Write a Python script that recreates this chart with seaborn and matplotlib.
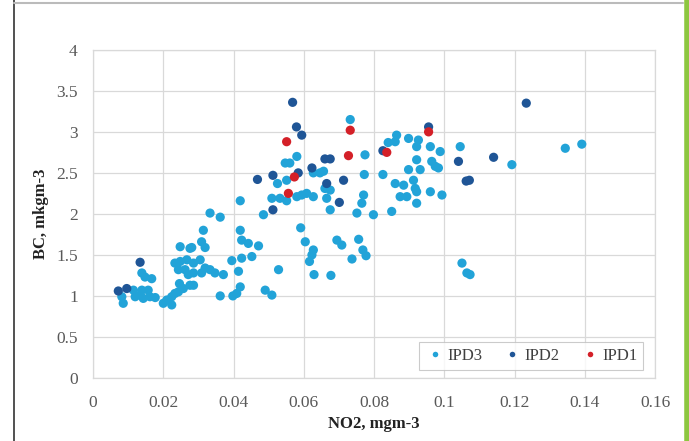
import matplotlib
matplotlib.use("Agg")
import matplotlib.pyplot as plt
from matplotlib.lines import Line2D
import seaborn as sns
import pandas as pd

# ---- data ----
ipd3_no2 = [0.0139, 0.0148, 0.0167, 0.0082, 0.0086, 0.0115, 0.0134, 0.0143, 0.0120, 0.0139,
            0.0157, 0.0162, 0.0177, 0.0210, 0.0224, 0.0200, 0.0224, 0.0246, 0.0243, 0.0257,
            0.0233, 0.0276, 0.0248, 0.0276, 0.0233, 0.0248, 0.0267, 0.0286, 0.0243, 0.0262,
            0.0271, 0.0286,
            0.0419, 0.0509, 0.0532, 0.0551, 0.0485, 0.0333, 0.0362, 0.0314, 0.0309, 0.0319,
            0.0281, 0.0419, 0.0423, 0.0442, 0.0471, 0.0452, 0.0423, 0.0395, 0.0305, 0.0319,
            0.0333, 0.0309, 0.0347, 0.0371, 0.0414, 0.0528, 0.0286, 0.0419, 0.0362, 0.0398,
            0.0409, 0.0490, 0.0509,
            0.0547, 0.0560, 0.0580, 0.0525, 0.0551, 0.0732, 0.0774, 0.0840, 0.0627, 0.0656,
            0.0772, 0.0825, 0.0660, 0.0675, 0.0608, 0.0627, 0.0580, 0.0594, 0.0665, 0.0770,
            0.0765, 0.0675, 0.0751, 0.0798, 0.0591, 0.0604, 0.0627, 0.0623, 0.0616, 0.0694,
            0.0708, 0.0756, 0.0768, 0.0777, 0.0737, 0.0629, 0.0677, 0.0646,
            0.0864, 0.0860, 0.0898, 0.0926, 0.0921, 0.0960, 0.0988, 0.1045, 0.0921, 0.0931,
            0.0898, 0.0964, 0.0974, 0.0983, 0.0860, 0.0884, 0.0912, 0.0917, 0.0921, 0.0960,
            0.0993, 0.0874, 0.0893, 0.0921, 0.0850, 0.1050, 0.1064, 0.1073,
            0.1192, 0.1344, 0.1391]
ipd3_bc = [1.28, 1.23, 1.21, 0.99, 0.91, 1.07, 1.01, 0.97, 0.99, 1.07,
           1.07, 0.99, 0.98, 0.95, 0.99, 0.91, 0.89, 1.15, 1.05, 1.09,
           1.03, 1.13, 1.60, 1.58, 1.40, 1.42, 1.44, 1.40, 1.32, 1.32,
           1.26, 1.28,
           2.16, 2.19, 2.19, 2.16, 1.99, 2.01, 1.96, 1.80, 1.66, 1.59,
           1.59, 1.80, 1.68, 1.64, 1.61, 1.48, 1.46, 1.43, 1.44, 1.34,
           1.32, 1.28, 1.28, 1.26, 1.30, 1.32, 1.13, 1.11, 1.00, 1.00,
           1.03, 1.07, 1.01,
           2.62, 2.62, 2.70, 2.37, 2.41, 3.15, 2.72, 2.87, 2.50, 2.52,
           2.48, 2.48, 2.31, 2.29, 2.25, 2.21, 2.21, 2.23, 2.19, 2.23,
           2.13, 2.05, 2.01, 1.99, 1.83, 1.66, 1.56, 1.50, 1.42, 1.68,
           1.62, 1.69, 1.56, 1.49, 1.45, 1.26, 1.25, 2.50,
           2.96, 2.88, 2.92, 2.90, 2.82, 2.82, 2.76, 2.82, 2.66, 2.54,
           2.54, 2.64, 2.58, 2.56, 2.37, 2.35, 2.41, 2.31, 2.27, 2.27,
           2.23, 2.21, 2.21, 2.13, 2.03, 1.40, 1.28, 1.26,
           2.60, 2.80, 2.85]

ipd2_no2 = [0.0072, 0.0096, 0.0134, 0.0468, 0.0512, 0.0512, 0.0568, 0.0579, 0.0594, 0.0584,
            0.0623, 0.0660, 0.0675, 0.0665, 0.0713, 0.0701, 0.0825, 0.0955, 0.1040, 0.1071,
            0.1062, 0.1140, 0.1233]
ipd2_bc = [1.06, 1.09, 1.41, 2.42, 2.47, 2.05, 3.36, 3.06, 2.96, 2.50,
           2.56, 2.67, 2.67, 2.37, 2.41, 2.14, 2.77, 3.06, 2.64, 2.41,
           2.40, 2.69, 3.35]

ipd1_no2 = [0.0551, 0.0573, 0.0556, 0.0732, 0.0727, 0.0836, 0.0955]
ipd1_bc = [2.88, 2.45, 2.25, 3.02, 2.71, 2.75, 3.00]

series = ["IPD3", "IPD2", "IPD1"]
x_ticks = [0, 0.02, 0.04, 0.06, 0.08, 0.1, 0.12, 0.14, 0.16]
x_labels = ["0", "0.02", "0.04", "0.06", "0.08", "0.1", "0.12", "0.14", "0.16"]
y_ticks = [0, 0.5, 1, 1.5, 2, 2.5, 3, 3.5, 4]
y_labels = ["0", "0.5", "1", "1.5", "2", "2.5", "3", "3.5", "4"]

df = pd.concat([
    pd.DataFrame({"NO2": ipd3_no2, "BC": ipd3_bc, "grp": "IPD3"}),
    pd.DataFrame({"NO2": ipd2_no2, "BC": ipd2_bc, "grp": "IPD2"}),
    pd.DataFrame({"NO2": ipd1_no2, "BC": ipd1_bc, "grp": "IPD1"}),
], ignore_index=True)

palette = {"IPD3": "#22a3d8", "IPD2": "#1f5596", "IPD1": "#d42028"}

sns.set_theme(style="white")
plt.rcParams["font.family"] = ["Liberation Serif", "DejaVu Serif"]

fig = plt.figure(figsize=(6.89, 4.41), dpi=100)
ax = fig.add_axes([0.135, 0.143, 0.816, 0.744])

sns.scatterplot(data=df, x="NO2", y="BC", hue="grp", hue_order=series,
                palette=palette, s=44, linewidth=0, ax=ax, zorder=3)

ax.set_xlim(0, 0.16)
ax.set_ylim(0, 4)
ax.set_xticks(x_ticks)
ax.set_xticklabels(x_labels)
ax.set_yticks(y_ticks)
ax.set_yticklabels(y_labels)
ax.tick_params(axis="both", length=0, labelsize=12.5, colors="#595959")
ax.tick_params(axis="x", pad=12)
ax.tick_params(axis="y", pad=11)
ax.grid(True, color="#d9d9d9", linewidth=0.9)
ax.set_axisbelow(True)
for sp in ax.spines.values():
    sp.set_color("#d9d9d9")
    sp.set_linewidth(0.9)

ax.set_xlabel("NO2, mgm-3", fontsize=12, fontweight="bold", color="#222222", labelpad=4)
ax.set_ylabel("BC, mkgm-3", fontsize=12, fontweight="bold", color="#222222", labelpad=5)

leg = ax.legend(loc="lower right", bbox_to_anchor=(0.993, 0.0), ncol=3,
                frameon=True, fancybox=False, fontsize=12, markerscale=0.6,
                handletextpad=0.15, columnspacing=1.2, borderpad=0.35,
                handlelength=1.2)
leg.get_frame().set_edgecolor("#bfbfbf")
leg.get_frame().set_linewidth(0.8)
for t in leg.get_texts():
    t.set_color("#404040")

# page frame decorations
fig.add_artist(Line2D([14/689, 14/689], [0, 1], color="#333333", lw=1.2, transform=fig.transFigure))
fig.add_artist(Line2D([14/689, 683/689], [1 - 3/441, 1 - 3/441], color="#bbbbbb", lw=1.5, transform=fig.transFigure))
fig.add_artist(Line2D([686.5/689, 686.5/689], [0, 1], color="#8dc63f", lw=4, transform=fig.transFigure))

fig.savefig("out.png", dpi=100)
